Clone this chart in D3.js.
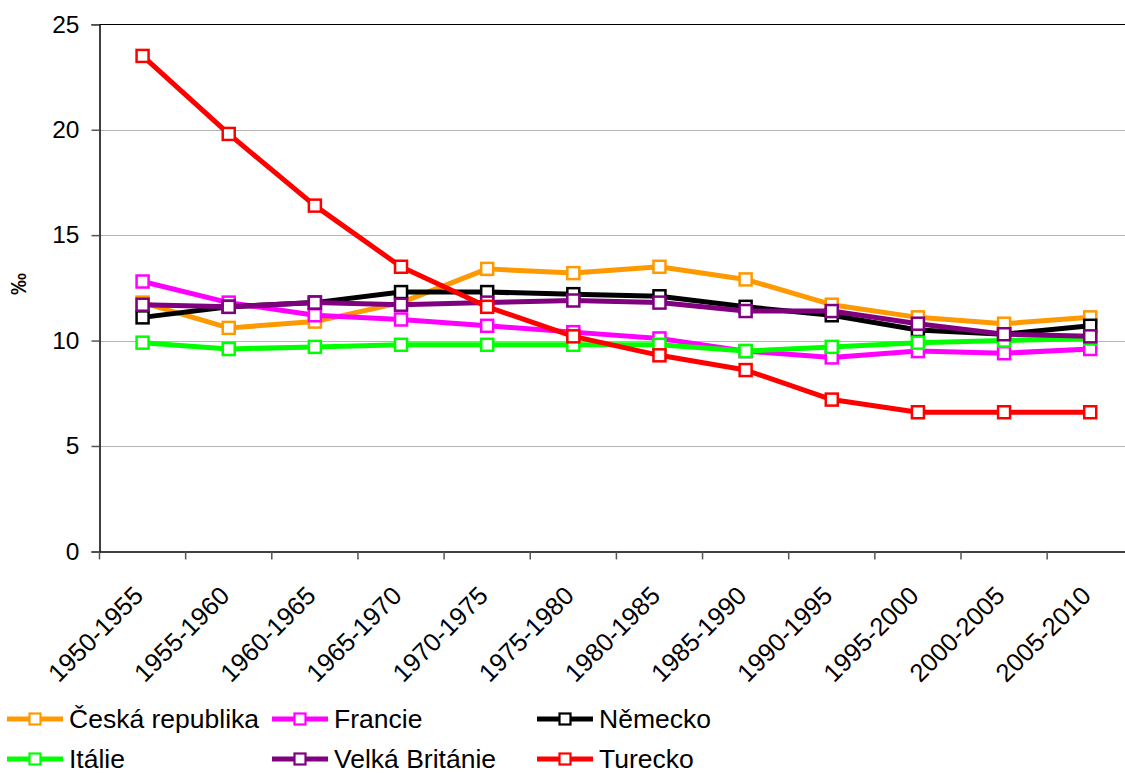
<!DOCTYPE html>
<html>
<head>
<meta charset="utf-8">
<script src="https://cdn.jsdelivr.net/npm/d3@7"></script>
<style>
  html, body { margin: 0; padding: 0; background: #fff; }
  svg { display: block; font-family: "Liberation Sans", Arial, sans-serif; }
</style>
</head>
<body>
<svg id="chart" width="1125" height="773"></svg>
<script>
const categories = ["1950-1955","1955-1960","1960-1965","1965-1970","1970-1975","1975-1980",
                    "1980-1985","1985-1990","1990-1995","1995-2000","2000-2005","2005-2010"];
const seriesNames = ["Česká republika","Francie","Německo","Itálie","Velká Británie","Turecko"];
const seriesColors = ["#FF9900","#FF00FF","#000000","#00FF00","#800080","#FF0000"];
const ceskaRepublika = [11.8, 10.6, 10.9, 11.8, 13.4, 13.2, 13.5, 12.9, 11.7, 11.1, 10.8, 11.1];
const francie        = [12.8, 11.8, 11.2, 11.0, 10.7, 10.4, 10.1, 9.5, 9.2, 9.5, 9.4, 9.6];
const nemecko        = [11.1, 11.6, 11.8, 12.3, 12.3, 12.2, 12.1, 11.6, 11.2, 10.5, 10.3, 10.7];
const italie         = [9.9, 9.6, 9.7, 9.8, 9.8, 9.8, 9.8, 9.5, 9.7, 9.9, 10.0, 10.1];
const velkaBritanie  = [11.7, 11.6, 11.8, 11.7, 11.8, 11.9, 11.8, 11.4, 11.4, 10.8, 10.3, 10.2];
const turecko        = [23.5, 19.8, 16.4, 13.5, 11.6, 10.2, 9.3, 8.6, 7.2, 6.6, 6.6, 6.6];
const yTicks = [0, 5, 10, 15, 20, 25];
const yLabel = "‰";

const seriesValues = [ceskaRepublika, francie, nemecko, italie, velkaBritanie, turecko];

const svg = d3.select("#chart");
const pLeft = 99.5, pRight = 1133.3, pTop = 24.3, pBottom = 551.4;

const x = d3.scaleBand().domain(categories).range([pLeft, pRight]).paddingInner(0).paddingOuter(0);
const cx = d => x(d) + x.bandwidth() / 2;
const y = d3.scaleLinear().domain([0, 25]).range([pBottom, pTop]);

// gridlines
svg.append("g").selectAll("line").data(yTicks.filter(t => t > 0)).join("line")
  .attr("x1", pLeft).attr("x2", 1125)
  .attr("y1", d => Math.round(y(d)) + 0.5).attr("y2", d => Math.round(y(d)) + 0.5)
  .attr("stroke", d => d === 25 ? "#000" : "#b4b4b4").attr("stroke-width", 1);

// y axis
const yAxis = d3.axisLeft(y).tickValues(yTicks).tickSize(8).tickPadding(12).tickFormat(d3.format("d"));
const gy = svg.append("g").attr("transform", `translate(${pLeft},0)`).call(yAxis);
gy.select(".domain").attr("stroke", "#000").attr("stroke-width", 1.5);
gy.selectAll(".tick line").attr("stroke", "#555").attr("stroke-width", 1.5);
gy.selectAll(".tick text").attr("font-size", 24.5).attr("fill", "#000")
  .attr("font-family", "'Liberation Sans', Arial, sans-serif");

// x axis
const xAxis = d3.axisBottom(x).tickSize(0).tickFormat("");
const gx = svg.append("g").attr("transform", `translate(0,${pBottom})`).call(xAxis);
gx.select(".domain").attr("stroke", "#000").attr("stroke-width", 1.5);
const boundaries = categories.map(c => x(c)).concat([x(categories[categories.length - 1]) + x.bandwidth()]);
gx.append("g").selectAll("line").data(boundaries).join("line")
  .attr("x1", d => d).attr("x2", d => d).attr("y1", 0).attr("y2", 8)
  .attr("stroke", "#555").attr("stroke-width", 1.5);
gx.append("g").selectAll("text").data(categories).join("text")
  .attr("transform", d => `translate(${cx(d) - 4},${591 - pBottom}) rotate(-45)`)
  .attr("text-anchor", "end").attr("dy", "0.35em")
  .attr("font-size", 25.5).attr("fill", "#000")
  .attr("font-family", "'Liberation Sans', Arial, sans-serif")
  .text(d => d);

// y label
svg.append("text").attr("transform", "translate(26,284) rotate(-90)")
  .attr("text-anchor", "middle").attr("font-size", 22).attr("font-weight", "bold")
  .text(yLabel);

// series
const line = d3.line().x((d, i) => cx(categories[i])).y(d => y(d));
const ms = 12;
seriesValues.forEach((vals, si) => {
  const g = svg.append("g");
  g.append("path").datum(vals).attr("d", line)
    .attr("fill", "none").attr("stroke", seriesColors[si]).attr("stroke-width", 5)
    .attr("stroke-linejoin", "round");
  g.selectAll("rect").data(vals).join("rect")
    .attr("x", (d, i) => cx(categories[i]) - ms / 2).attr("y", d => y(d) - ms / 2)
    .attr("width", ms).attr("height", ms)
    .attr("fill", "#fff").attr("stroke", seriesColors[si]).attr("stroke-width", 2.5);
});

// legend
const legCols = [7, 272, 537];
const legRows = [719, 759];
seriesNames.forEach((name, i) => {
  const lx = legCols[i % 3], ly = legRows[Math.floor(i / 3)];
  const g = svg.append("g").attr("transform", `translate(${lx},${ly})`);
  g.append("line").attr("x1", 0).attr("x2", 56).attr("y1", 0).attr("y2", 0)
    .attr("stroke", seriesColors[i]).attr("stroke-width", 5);
  g.append("rect").attr("x", 28 - 5.5).attr("y", -5.5).attr("width", 11).attr("height", 11)
    .attr("fill", "#fff").attr("stroke", seriesColors[i]).attr("stroke-width", 2.2);
  g.append("text").attr("x", 62).attr("y", 0).attr("dy", "0.35em")
    .attr("font-size", 26.5).attr("fill", "#000").text(name);
});
</script>
</body>
</html>
